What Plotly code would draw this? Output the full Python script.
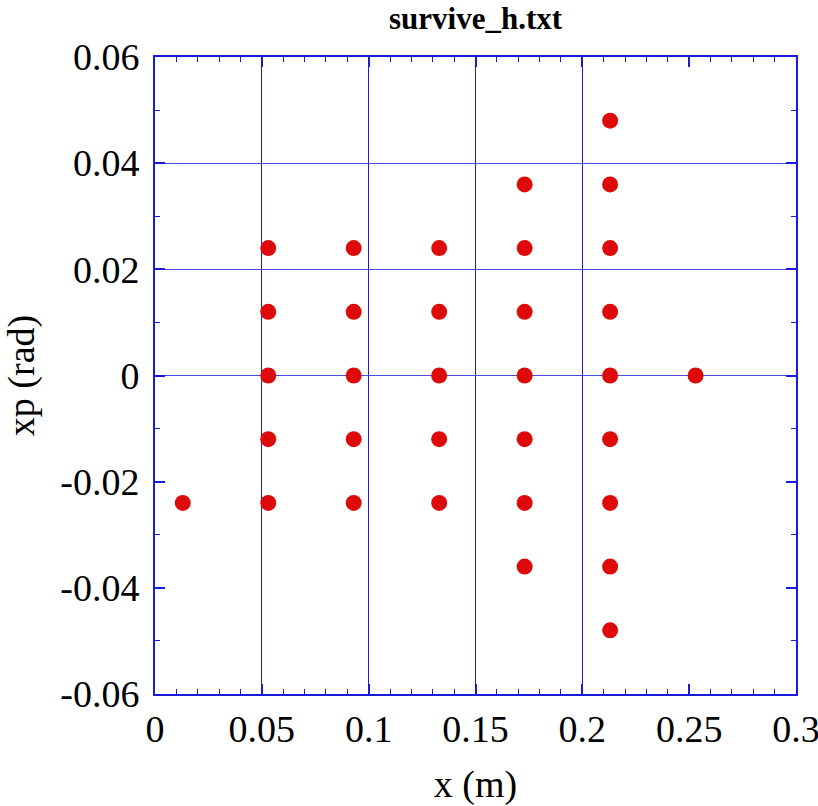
import plotly.graph_objects as go

# data: (x, xp) grid of surviving particles
x_vals = [0.013,
          0.053, 0.053, 0.053, 0.053, 0.053,
          0.093, 0.093, 0.093, 0.093, 0.093,
          0.133, 0.133, 0.133, 0.133, 0.133,
          0.173, 0.173, 0.173, 0.173, 0.173, 0.173, 0.173,
          0.213, 0.213, 0.213, 0.213, 0.213, 0.213, 0.213, 0.213, 0.213,
          0.253]
xp_vals = [-0.024,
           0.024, 0.012, 0.0, -0.012, -0.024,
           0.024, 0.012, 0.0, -0.012, -0.024,
           0.024, 0.012, 0.0, -0.012, -0.024,
           0.036, 0.024, 0.012, 0.0, -0.012, -0.024, -0.036,
           0.048, 0.036, 0.024, 0.012, 0.0, -0.012, -0.024, -0.036, -0.048,
           0.0]

x_range = [0, 0.3]
y_range = [-0.06, 0.06]
x_ticks = [0, 0.05, 0.1, 0.15, 0.2, 0.25, 0.3]
x_tick_text = ["0", "0.05", "0.1", "0.15", "0.2", "0.25", "0.3"]
y_ticks = [-0.06, -0.04, -0.02, 0, 0.02, 0.04, 0.06]
y_tick_text = ["-0.06", "-0.04", "-0.02", "0", "0.02", "0.04", "0.06"]
x_grid = [0.05, 0.1, 0.15, 0.2]
y_grid = [0, 0.02, 0.04]

FONT = "Liberation Serif"
AX = "#1a1adc"

fig = go.Figure()
fig.add_trace(go.Scatter(x=[None], y=[None], xaxis="x2", yaxis="y2",
                         mode="markers", showlegend=False, hoverinfo="skip"))
fig.add_trace(go.Scatter(x=x_vals, y=xp_vals, mode="markers",
                         marker=dict(size=16, color="#de0a0a", line=dict(width=0)),
                         showlegend=False))

axis_common = dict(showline=True, linecolor=AX, linewidth=2, mirror="allticks",
                   ticks="inside", ticklen=10, tickcolor=AX, tickwidth=1.5,
                   showgrid=False, zeroline=False, automargin=False,
                   ticklabeloverflow="allow",
                   tickfont=dict(family=FONT, size=38, color="black"))

fig.update_layout(
    width=818, height=806,
    margin=dict(l=155, r=22, t=57, b=112),
    paper_bgcolor="white", plot_bgcolor="white",
    title=dict(text="<b>survive_h.txt</b>", x=0.5, xanchor="center",
               xref="paper", y=1 - 18 / 806, yanchor="middle",
               font=dict(family=FONT, size=31, color="black")),
    xaxis=dict(range=x_range, tickvals=x_ticks, ticktext=x_tick_text,
               minor=dict(dtick=0.01, tick0=0, ticks="inside", ticklen=5,
                          tickcolor=AX, tickwidth=1, showgrid=False),
               title=dict(text="x (m)", font=dict(family=FONT, size=38, color="black"),
                          standoff=24),
               **axis_common),
    yaxis=dict(range=y_range, tickvals=y_ticks, ticktext=y_tick_text,
               minor=dict(dtick=0.01, tick0=0, ticks="inside", ticklen=5,
                          tickcolor=AX, tickwidth=1, showgrid=False),
               title=dict(text="xp (rad)", font=dict(family=FONT, size=38, color="black"),
                          standoff=25),
               ticklabelstandoff=6,
               **axis_common),
    xaxis2=dict(overlaying="x", anchor="y2", range=x_range, tickvals=x_grid,
                showticklabels=False, ticks="", showgrid=True,
                gridcolor="#1c1cd8", gridwidth=1, zeroline=False, showline=False),
    yaxis2=dict(overlaying="y", anchor="x2", range=y_range, tickvals=y_grid,
                showticklabels=False, ticks="", showgrid=True,
                gridcolor="#4a4ae0", gridwidth=1, zeroline=False, showline=False),
)

fig.write_html("out.html")
